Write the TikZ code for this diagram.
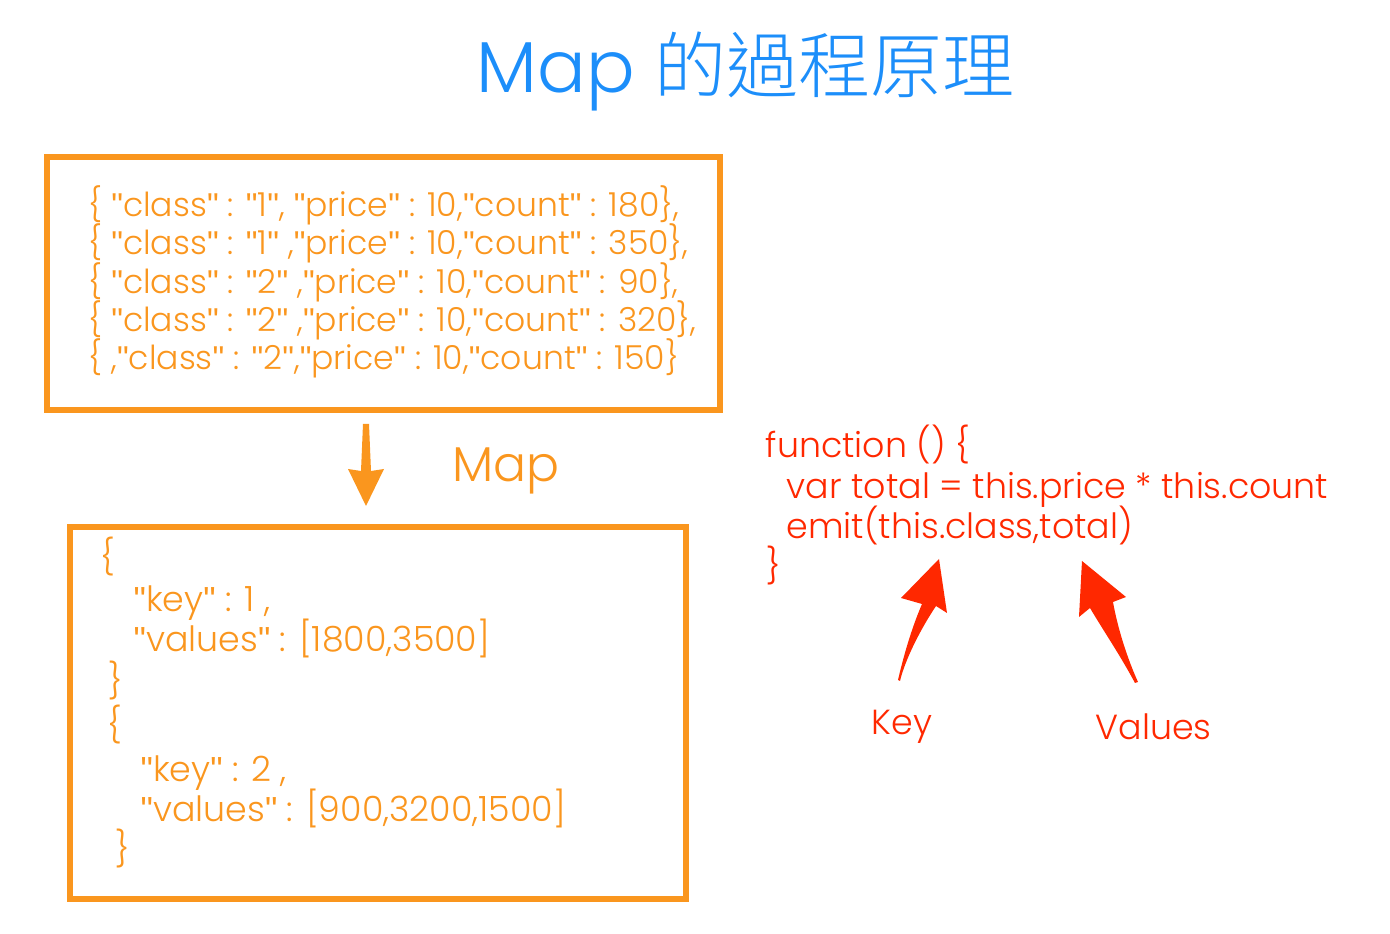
\documentclass[tikz,border=0pt]{standalone}
\usepackage{fontspec}
\IfFontExistsTF{Poppins Light}{\setmainfont{Poppins Light}}{\setmainfont{Poppins}}
\IfFontExistsTF{Noto Sans CJK TC Light}{\newfontfamily\cjk{Noto Sans CJK TC Light}}{\newfontfamily\cjk{Noto Sans CJK TC}}
\newfontfamily\quotefont{Liberation Sans}
\newcommand{\q}{{\quotefont"}}
\definecolor{map_blue}{RGB}{28,142,250}
\definecolor{map_orange}{RGB}{250,150,30}
\definecolor{map_red}{RGB}{255,40,0}
\tikzset{
  databox/.style={draw=map_orange,line width=1.5pt},
  jsonline/.style={text=map_orange,anchor=base west,inner sep=0pt,font=\fontsize{9.4}{12}\selectfont},
  kvline/.style={text=map_orange,anchor=base west,inner sep=0pt,font=\fontsize{9.9}{13}\selectfont},
  codeline/.style={text=map_red,anchor=base west,inner sep=0pt,font=\fontsize{9.9}{13}\selectfont}
}
\begin{document}
\begin{tikzpicture}[x=0.01cm,y=-0.01cm]
    \useasboundingbox (0,0) rectangle (1390,934);
    % title
    \node[anchor=base west,inner sep=0pt,text=map_blue,font=\fontsize{20.5}{24}\selectfont] (title) at (476,93) {Map {\cjk 的過程原理}};
    % input documents
    \draw[databox] (47,157) rectangle (720,410);
    \node[jsonline] (doc1) at (88,217) {\{ \q class\q\ : \q 1\q, \q price\q\ : 10,\q count\q\ : 180\},};
    \node[jsonline] (doc2) at (88,255) {\{ \q class\q\ : \q 1\q\ ,\q price\q\ : 10,\q count\q\ : 350\},};
    \node[jsonline] (doc3) at (88,294) {\{ \q class\q\ : \q 2\q\ ,\q price\q\ : 10,\q count\q\ : 90\},};
    \node[jsonline] (doc4) at (88,332) {\{ \q class\q\ : \q 2\q\ ,\q price\q\ : 10,\q count\q\ : 320\},};
    \node[jsonline] (doc5) at (88,370) {\{ ,\q class\q\ : \q 2\q,\q price\q\ : 10,\q count\q\ : 150\}};
    % map step
    \fill[map_orange] (363,424) -- (369,424) -- (371,471) -- (384,469) -- (366,506) -- (348,469) -- (361,471) -- cycle;
    \node[anchor=base west,inner sep=0pt,text=map_orange,font=\fontsize{13.9}{17}\selectfont] (maplabel) at (452,482) {Map};
    % key / values output
    \draw[databox] (70,527) rectangle (686,899);
    \node[kvline] (open1) at (100,570) {\{};
    \node[kvline] (key1) at (133,612) {\q key\q\ : 1 ,};
    \node[kvline] (val1) at (133,652) {\q values\q\ : [1800,3500]};
    \node[kvline] (close1) at (108,694) {\}};
    \node[kvline] (open2) at (107,738) {\{};
    \node[kvline] (key2) at (140,782) {\q key\q\ : 2 ,};
    \node[kvline] (val2) at (140,822) {\q values\q\ : [900,3200,1500]};
    \node[kvline] (close2) at (115,862) {\}};
    % map function
    \node[codeline] (fn) at (765,458) {function () \{};
    \node[codeline] (total) at (786,499) {var total = this.price * this.count};
    \node[codeline] (emit) at (786,539) {emit(this.class,total)};
    \node[codeline] (fnend) at (766,579) {\}};
    % pointers
    \fill[map_red] (939,559) -- (947,613) -- (936,606) .. controls (920,630) and (905,660) .. (900,681)
        -- (898,680) .. controls (905,650) and (913,625) .. (922,604) -- (901,598) -- cycle;
    \fill[map_red] (1082,561) -- (1126,597) -- (1113,602) .. controls (1118,630) and (1128,660) .. (1138,682)
        -- (1135,683) .. controls (1120,655) and (1103,630) .. (1090,608) -- (1079,617) -- cycle;
    \node[codeline] (keylabel) at (871,735) {Key};
    \node[codeline] (vallabel) at (1095,740) {Values};
\end{tikzpicture}
\end{document}
